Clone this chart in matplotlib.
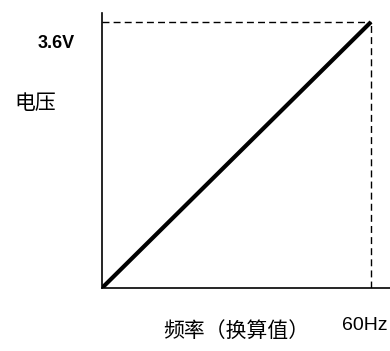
import matplotlib
matplotlib.use("Agg")
import matplotlib.pyplot as plt

plt.rcParams['font.family'] = ['Liberation Sans', 'Noto Sans CJK SC', 'DejaVu Sans']

# data: linear V/f curve
freq = [0, 60]
volt = [0, 3.6]
v_label = "3.6V"
f_label = "60Hz"
y_title = "电压"
x_title = "频率（换算值）"

W, H = 390, 351
fig = plt.figure(figsize=(W / 100, H / 100), dpi=100)

# axes box in pixels: origin (102, 288), axis ends at x=390 and y=13
x0, y0 = 102, 288
x_end, y_top = 390, 13
x60, y36 = 371, 22
ax = fig.add_axes([x0 / W, 1 - y0 / H, (x_end - x0) / W, (y0 - y_top) / H])
ax.set_xlim(0, freq[1] * (x_end - x0) / (x60 - x0))
ax.set_ylim(0, volt[1] * (y0 - y_top) / (y0 - y36))

for s in ['top', 'right']:
    ax.spines[s].set_visible(False)
for s in ['left', 'bottom']:
    ax.spines[s].set_linewidth(1.2)
ax.set_xticks([])
ax.set_yticks([])

ax.plot(freq, volt, color='black', lw=3, solid_capstyle='butt', zorder=3)
ax.plot([0, freq[1]], [volt[1], volt[1]], color='black', lw=1, ls=(0, (5, 3)))
ax.plot([freq[1], freq[1]], [0, volt[1]], color='black', lw=1, ls=(0, (5, 3)))

fig.text(56 / W, 1 - 44 / H, v_label, fontsize=13, fontweight='bold',
         ha='center', va='center')
fig.text(35 / W, 1 - 103 / H, y_title, fontsize=15, ha='center', va='center',
         family=['Noto Sans CJK SC', 'DejaVu Sans'])
fig.text(236 / W, 1 - 331 / H, x_title, fontsize=15, ha='center', va='center',
         family=['Noto Sans CJK SC', 'DejaVu Sans'])
fig.text(342 / W, 1 - 326 / H, f_label, fontsize=14, ha='left', va='center')

fig.savefig('out.png', dpi=100)
